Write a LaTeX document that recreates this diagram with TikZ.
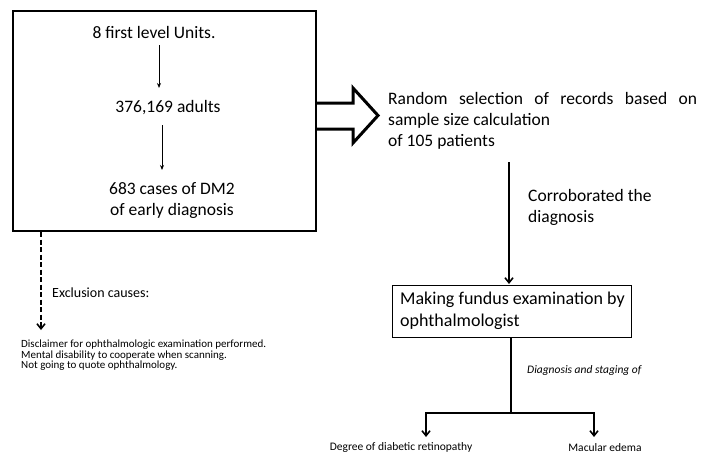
\documentclass[tikz,border=0pt]{standalone}
\usepackage{fontspec}
\setmainfont{Carlito}
\usetikzlibrary{arrows.meta}
\begin{document}
\begin{tikzpicture}[x=1pt,y=-1pt,
  txt/.style={inner sep=0pt, font=\fontsize{17.5}{21}\selectfont},
  small/.style={inner sep=0pt, font=\fontsize{11.5}{12}\selectfont},
  thinarrow/.style={draw, line width=0.9pt, -{Stealth[length=5pt,width=4pt]}},
  openarrow/.style={draw, line width=1.6pt, -{Straight Barb[length=5pt,width=8pt]}},
  boxline/.style={draw, line width=1.4pt}]
\useasboundingbox (0,0) rectangle (712,455);
% main box
\draw[boxline] (13,11) rectangle (316,231);
\node[txt] (u) at (154,32) {8 first level Units.};
\node[txt] (a) at (168,108) {376,169 adults};
\node[txt, align=center] (c) at (172,201) {683 cases of DM2\\of early diagnosis};
\coordinate (u1) at (159,45); \coordinate (u2) at (159,88);
\coordinate (a1) at (162,125); \coordinate (a2) at (162,170);
\draw[thinarrow] (u1) -- (u2);
\draw[thinarrow] (a1) -- (a2);
% hollow arrow
\draw[line width=3pt, line join=miter] (316,103) -- (353,103) -- (353,88) -- (378,115.5) -- (353,143) -- (353,129) -- (316,129);
% random selection
\node[txt, anchor=north west, align=left] (r) at (388,92) {\makebox[309pt][s]{Random selection of records based on}\\sample size calculation\\of 105 patients};
% exam box
\node[draw, line width=1.4pt, anchor=north west, minimum width=239pt, minimum height=52pt, inner sep=0pt] (e) at (392,285) {};
\node[inner sep=0pt, anchor=west, align=left, font=\fontsize{18}{22}\selectfont] (et) at (400,311) {Making fundus examination by\\ophthalmologist};
\coordinate (r1) at (509,162);
\draw[openarrow] (r1) -- (509,284);
\node[txt, anchor=west, align=left] (cor) at (528,207) {Corroborated the\\diagnosis};
% branch
\coordinate (b0) at (511,337);
\coordinate (bj) at (511,413);
\coordinate (bl) at (426,413);
\coordinate (br) at (594,413);
\coordinate (blt) at (426,437);
\coordinate (brt) at (594,437);
\draw[line width=1.6pt] (b0) -- (bj);
\draw[line width=1.6pt] (bl) -- (br);
\draw[openarrow] (426,412.2) -- (blt);
\draw[openarrow] (594,412.2) -- (brt);
\node[small, font=\fontsize{11.5}{12}\selectfont\itshape, anchor=west] (ds) at (527,370) {Diagnosis and staging of};
\node[small] (dr) at (401,447) {Degree of diabetic retinopathy};
\node[small] (me) at (605,448) {Macular edema};
% exclusion
\coordinate (x0) at (41,232);
\coordinate (x1) at (41,330);
\draw[line width=1.6pt, dash pattern=on 5pt off 2.5pt, -{Straight Barb[length=5pt,width=8pt]}] (x0) -- (x1);
\node[inner sep=0pt, anchor=west, font=\fontsize{14}{16}\selectfont] (ex) at (52,293) {Exclusion causes:};
\node[small, anchor=north west, align=left, font=\fontsize{11}{10.3}\selectfont] (el) at (21,340) {Disclaimer for ophthalmologic examination performed.\\Mental disability to cooperate when scanning.\\Not going to quote ophthalmology.};
\end{tikzpicture}
\end{document}
